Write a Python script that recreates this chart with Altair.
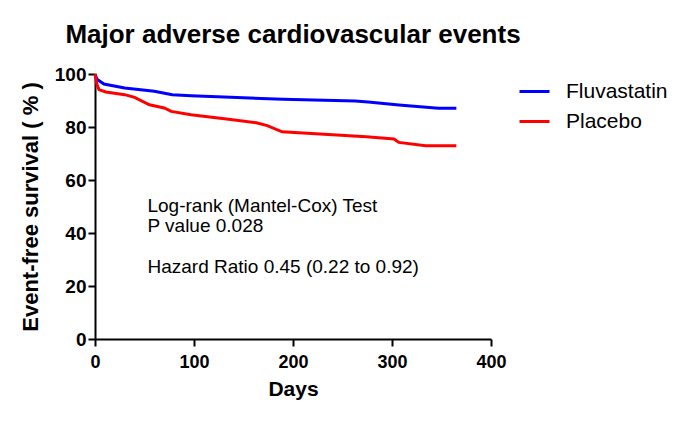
import altair as alt
import pandas as pd

# Data
flu_days = [0, 2, 9, 30, 60, 78, 97, 137, 190, 263, 276, 307, 347, 365]
flu_surv = [100, 98, 96.2, 94.7, 93.5, 92.2, 91.8, 91.2, 90.5, 89.8, 89.4, 88.3, 87.1, 87.1]

plac_days = [0, 2, 4, 11, 30, 40, 55, 70, 77, 97, 137, 163, 174, 189, 274, 302, 307, 334, 365]
plac_surv = [100, 96, 94.1, 93.2, 92.2, 91.2, 88.4, 87.2, 85.9, 84.6, 82.8, 81.6, 80.5, 78.2, 76.3, 75.5, 74.2, 72.9, 72.9]

groups = ["Fluvastatin", "Placebo"]
colors = ["#0000ff", "#ff0000"]

notes = ["Log-rank (Mantel-Cox) Test", "P value 0.028", "Hazard Ratio 0.45 (0.22 to 0.92)"]
note_x = [53, 53, 53]
note_y = [47.8, 40.4, 25.0]

FONT = "Liberation Sans"

rows = []
for d, s in zip(flu_days, flu_surv):
    rows.append({"day": d, "surv": s, "group": groups[0], "order": len(rows)})
for d, s in zip(plac_days, plac_surv):
    rows.append({"day": d, "surv": s, "group": groups[1], "order": len(rows)})
df = pd.DataFrame(rows)

notes_df = pd.DataFrame({"x": note_x, "y": note_y, "t": notes})

x_scale = alt.Scale(domain=[0, 400], nice=False)
y_scale = alt.Scale(domain=[0, 100], nice=False)

lines = alt.Chart(df).mark_line(strokeWidth=3).encode(
    x=alt.X("day:Q", scale=x_scale,
            axis=alt.Axis(title="Days", values=[0, 100, 200, 300, 400], grid=False,
                          labelFont=FONT, labelFontSize=18, labelFontWeight="bold",
                          labelColor="black", labelPadding=7,
                          titleFont=FONT, titleFontSize=21, titleFontWeight="bold",
                          titleColor="black", titlePadding=7,
                          domainColor="black", domainWidth=2, tickColor="black",
                          tickWidth=2, tickSize=7, labelFlush=False)),
    y=alt.Y("surv:Q", scale=y_scale,
            axis=alt.Axis(title="Event-free survival ( % )", values=[0, 20, 40, 60, 80, 100],
                          grid=False,
                          labelFont=FONT, labelFontSize=19, labelFontWeight="bold",
                          labelColor="black", labelPadding=2,
                          titleFont=FONT, titleFontSize=22, titleFontWeight="bold",
                          titleColor="black", titlePadding=12,
                          domainColor="black", domainWidth=2, tickColor="black",
                          tickWidth=2, tickSize=7, labelFlush=False)),
    color=alt.Color("group:N", scale=alt.Scale(domain=groups, range=colors),
                    legend=alt.Legend(title=None, orient="none", legendX=423, legendY=1,
                                      symbolType="stroke", symbolSize=900,
                                      symbolStrokeWidth=3, labelFont=FONT,
                                      labelFontSize=21, labelColor="black",
                                      labelOffset=15, rowPadding=3, padding=0)),
    order="order:Q",
)

text = alt.Chart(notes_df).mark_text(align="left", baseline="alphabetic", font=FONT,
                                     fontSize=19, color="black").encode(
    x=alt.X("x:Q", scale=x_scale),
    y=alt.Y("y:Q", scale=y_scale),
    text="t:N",
)

chart = alt.layer(lines, text).properties(
    width=396,
    height=265,
    title=alt.TitleParams("Major adverse cardiovascular events", font=FONT, fontSize=26,
                          fontWeight="bold", color="black", anchor="middle",
                          baseline="alphabetic", offset=-4),
    autosize=alt.AutoSizeParams(type="none"),
    padding={"left": 87, "top": 66, "right": 186, "bottom": 74},
).configure_view(stroke=None)

chart.save("out.html", embed_options={"renderer": "svg", "actions": False})
